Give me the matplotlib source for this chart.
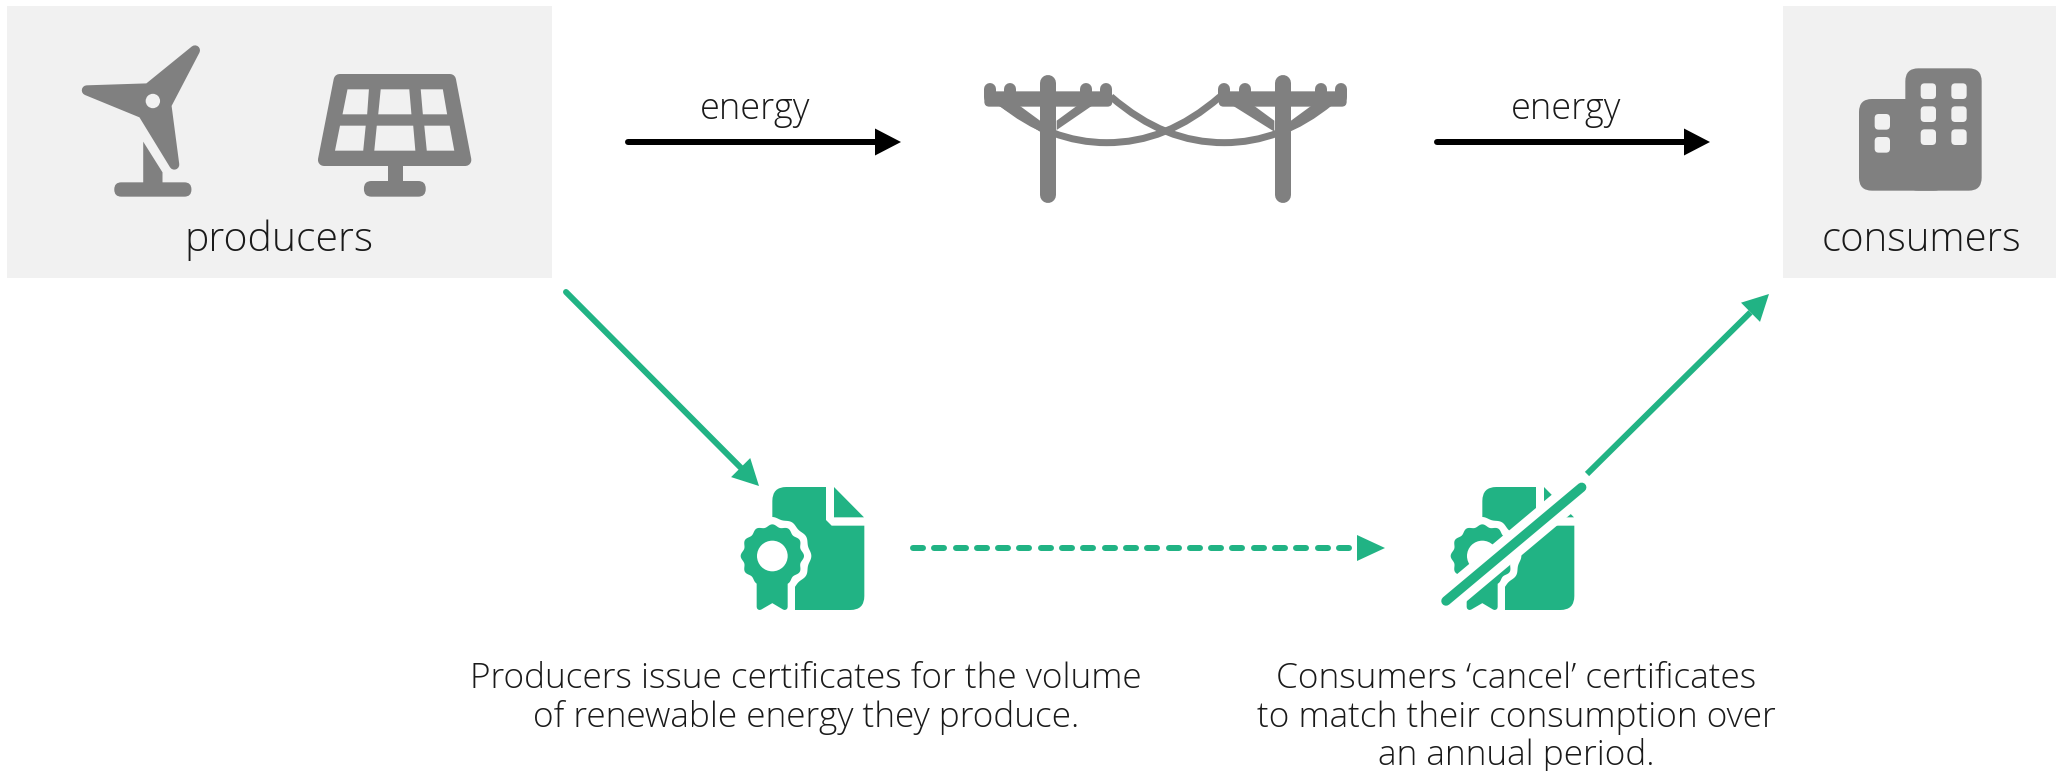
import numpy as np
import matplotlib
matplotlib.use("Agg")
import matplotlib.pyplot as plt
from matplotlib.patches import PathPatch, Polygon, Rectangle, FancyBboxPatch, Circle
from matplotlib.path import Path

GREY = "#808080"; BOX = "#f1f1f1"; GREEN = "#21b384"; INK = "#1a1a1a"
FONT = ["Open Sans", "DejaVu Sans"]

box_labels = ["producers", "consumers"]
flow_labels = ["energy", "energy"]
issue_lines = ["Producers issue certificates for the volume", "of renewable energy they produce."]
cancel_lines = ["Consumers \u2018cancel\u2019 certificates", "to match their consumption over", "an annual period."]

fig = plt.figure(figsize=(20.56, 7.71), dpi=100)
ax = fig.add_axes([0, 0, 1, 1])
ax.set_xlim(0, 2056); ax.set_ylim(771, 0); ax.axis("off")
PT = 0.72

def poly(pts, ox=0, oy=0, sx=1, sy=1, color=GREY, lw=0, z=3):
    p = np.array(pts, float) / [sx, sy] + [ox, oy]
    ax.add_patch(Polygon(p, closed=True, fc=color, ec=color, lw=lw * PT, joinstyle="round", zorder=z))

def rrect(x0, y0, x1, y1, r, color=GREY, z=3):
    ax.add_patch(FancyBboxPatch((x0 + r, y0 + r), x1 - x0 - 2 * r, y1 - y0 - 2 * r,
                                boxstyle=f"round,pad={r},rounding_size={r}", fc=color, ec="none", zorder=z))

def line(x, y, lw, color=GREY, z=3, cap="round", **kw):
    ax.plot(x, y, color=color, lw=lw * PT, solid_capstyle=cap, zorder=z, **kw)

# boxes
ax.add_patch(Rectangle((7, 6), 545, 272, fc=BOX, ec="none", zorder=1))
ax.add_patch(Rectangle((1783, 6), 273, 272, fc=BOX, ec="none", zorder=1))

# turbine
T = dict(sx=2.8, sy=3)
poly([(243,271),(415,265),(546,151),(466,315),(488,494),(400,340)], lw=10, **T)
ax.add_patch(Circle((428/2.8, 303/3), 7.2, fc=BOX, ec="none", zorder=4))
poly([(401,425),(455,517),(455,550),(401,550)], **T)
rrect(320/2.8, 547/3, 536/2.8, 590/3, 7)

# solar panel
poly([(951,240),(1260,240),(1303,480),(907,480)], lw=12, **T)
panes = [[(973,268),(1033,268),(1028,343),(959,343)], [(1066,268),(1146,268),(1152,343),(1059,343)],
         [(1178,268),(1240,268),(1252,343),(1184,343)], [(952,377),(1024,377),(1017,452),(938,452)],
         [(1055,377),(1157,377),(1163,452),(1048,452)], [(1188,377),(1259,377),(1272,452),(1195,452)]]
for q in panes:
    poly(q, color=BOX, z=4, **T)
poly([(1085,495),(1127,495),(1127,548),(1085,548)], **T)
rrect(1019/2.8, 543/3, 1192/2.8, 590/3, 7.5)

# power lines (zoom coords: origin 950,50, scale 3)
def Z(x, y): return 950 + np.asarray(x, float) / 3, 50 + np.asarray(y, float) / 3
for pc, arm, nubs in [(295, (103, 487), (121, 181, 409, 469)), (998, (806, 1190), (823, 884, 1113, 1173))]:
    x, y = Z([pc, pc], [99, 436]); line(x, y, 16)
    x0, y0 = Z(arm[0], 124); x1, y1 = Z(arm[1], 170)
    rrect(x0, y0, x1, y1, 5)
    for n in nubs:
        x, y = Z([n, n], [117, 140]); line(x, y, 12)
    for b in ([(pc-148,168),(pc-85,168),(pc-25,212),(pc-25,245)], [(pc+85,168),(pc+130,168),(pc+25,240),(pc+25,212)]):
        b = np.array(b, float); xx, yy = Z(b[:, 0], b[:, 1])
        ax.add_patch(Polygon(np.c_[xx, yy], fc=GREY, ec="none", zorder=3))
wire = [(150,155),(250,238),(360,278),(470,278),(590,278),(700,235),(810,140)]
codes = [Path.MOVETO] + [Path.CURVE4] * 6
for flip in (False, True):
    pts = np.array(wire, float)
    if flip:
        pts[:, 0] = 1293 - pts[:, 0]
    xx, yy = Z(pts[:, 0], pts[:, 1])
    ax.add_patch(PathPatch(Path(np.c_[xx, yy], codes), fc="none", ec=GREY, lw=7 * PT, zorder=3))

# building (origin 1780,0, scale 3)
def B(v): return 1780 + v / 3
rrect(B(237), 297/3, B(500), 572/3, 13)
rrect(B(376), 205/3, B(605), 572/3, 13)
for xw in (422, 514):
    for yw in (250, 319, 388):
        rrect(B(xw), yw/3, B(xw+46), (yw+47)/3, 4, color=BOX, z=4)
for yw in (342, 411):
    rrect(B(284), yw/3, B(330), (yw+47)/3, 4, color=BOX, z=4)

# certificates
def cert(ox):
    def C(pts): return np.array(pts, float) / 3 + [ox, 460]
    ax.add_patch(FancyBboxPatch((ox + 157/3 + 14, 460 + 81/3 + 14), (433-157)/3 - 28, (450-81)/3 - 28,
                                boxstyle="round,pad=14,rounding_size=14", fc=GREEN, ec="none", zorder=3))
    ax.add_patch(Polygon(C([(318,70),(445,70),(445,197),(335,197),(318,180)]), fc="white", ec="none", zorder=4))
    ax.add_patch(Polygon(C([(342,81),(432,172),(342,172)]), fc=GREEN, ec="none", zorder=5))
    th = np.linspace(0, 2 * np.pi, 241)
    cx, cy = 157, 288
    for R, amp, col, z in [(114, 3, "white", 5), (91, 4, GREEN, 7)]:
        r = R + amp * np.cos(12 * th)
        ax.add_patch(Polygon(C(np.c_[cx + r * np.cos(th), cy + r * np.sin(th)]), fc=col, ec="none", zorder=z))
    ax.add_patch(Polygon(C([(88,340),(225,340),(225,460),(88,460)]), fc="white", ec="none", zorder=6))
    poly(C([(119,340),(194,340),(194,441),(157,419),(119,441)]), lw=6, color=GREEN, z=7)
    ax.add_patch(Circle((ox + cx/3, 460 + cy/3), 46/3, fc="white", ec="none", zorder=8))

cert(720)
cert(1430)

# strike-through on the cancelled certificate
sx = np.array([78, 485]) / 3 + 1420; sy = np.array([423, 82]) / 3 + 460
line(sx, sy, 27, color="white", z=9)
line(sx, sy, 9.5, color=GREEN, z=10)

# arrows
def arrow(x0, y0, x1, y1, color, lw=6, head=27, half=13.5, **kw):
    d = np.array([x1 - x0, y1 - y0], float); L = np.hypot(*d); u = d / L; n = np.array([-u[1], u[0]])
    b = np.array([x1, y1]) - u * (head - 1)
    line([x0, b[0]], [y0, b[1]], lw, color=color, z=11, **kw)
    ax.add_patch(Polygon([(x1, y1), b + n * half, b - n * half], fc=color, ec="none", zorder=11))

arrow(628, 142, 901, 142, "black")
arrow(1437, 142, 1710, 142, "black")
arrow(566, 292, 759, 486, GREEN)
arrow(1587, 474, 1769, 294, GREEN, cap="butt")
for x0 in np.arange(913, 1345, 21.3):
    line([x0, x0 + 10], [548, 548], 6, color=GREEN, z=11)
ax.add_patch(Polygon([(1385, 548), (1357, 535), (1357, 561)], fc=GREEN, ec="none", zorder=11))

# text
FS = 25.4
TK = dict(ha="center", va="baseline", color=INK, family=FONT, fontweight=300, zorder=12)
ax.text(279, 251, box_labels[0], fontsize=29.5, **TK)
ax.text(1921, 251, box_labels[1], fontsize=28.8, **TK)
ax.text(755, 119, flow_labels[0], fontsize=26, **TK)
ax.text(1566, 119, flow_labels[1], fontsize=26, **TK)
for t, yy in zip(issue_lines, (688, 727)):
    ax.text(806, yy, t, fontsize=FS, **TK)
for t, yy in zip(cancel_lines, (688, 727, 765)):
    ax.text(1516, yy, t, fontsize=FS, **TK)

fig.savefig("out.png", dpi=100, facecolor="white")
